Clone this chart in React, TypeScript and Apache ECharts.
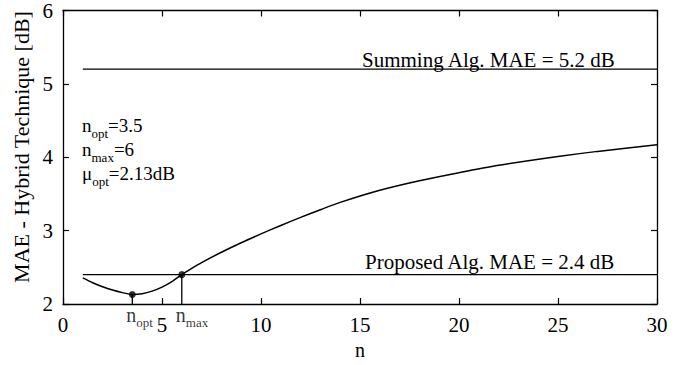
import React, { useEffect, useRef } from "react";
import * as echarts from "echarts";

// MAE of the hybrid technique versus n
const nValues = [1, 1.5, 2, 2.5, 3, 3.5, 4, 4.5, 5, 5.5, 6, 6.5, 7, 8, 9, 10, 11, 12, 13, 14, 16, 18, 20, 22, 25, 27, 30];
const maeValues = [
  2.355, 2.29, 2.235, 2.19, 2.155, 2.13, 2.14, 2.175, 2.23, 2.305, 2.4, 2.485, 2.565,
  2.705, 2.835, 2.955, 3.07, 3.18, 3.285, 3.385, 3.55, 3.68, 3.79, 3.89, 4.01, 4.08, 4.17,
];

// reference levels
const summingMae = 5.2;
const proposedMae = 2.4;
const levelRange = [1, 30];

// marked points
const nOpt = 3.5;
const muOpt = 2.13;
const nMax = 6;

const xTicks = { min: 0, max: 30, interval: 5 };
const yTicks = { min: 2, max: 6, interval: 1 };

const FONT = "'Liberation Serif', 'Times New Roman', serif";

export default function App() {
  const ref = useRef<HTMLDivElement>(null);

  useEffect(() => {
    if (!ref.current) return;
    const chart = echarts.init(ref.current, undefined, { renderer: "svg" });

    const black = "#000";
    const axisCommon = {
      axisLine: { show: true, onZero: false, lineStyle: { color: black, width: 1.3 } },
      axisTick: { show: true, inside: true, length: 6, lineStyle: { color: black, width: 1.2 } },
      splitLine: { show: false },
    };
    const subRich = {
      n: { fontFamily: FONT, fontSize: 20, color: black, padding: [0, 0, 5, 0] },
      s: { fontFamily: FONT, fontSize: 13, color: black, padding: [10, 0, 0, 0] },
    };

    chart.setOption({
      animation: false,
      backgroundColor: "#fff",
      grid: { left: 63, right: 24, top: 8, bottom: 61 },
      xAxis: [
        {
          type: "value",
          ...xTicks,
          position: "bottom",
          name: "n",
          nameLocation: "middle",
          nameGap: 33,
          nameTextStyle: { fontFamily: FONT, fontSize: 20, color: black },
          ...axisCommon,
          axisLabel: { fontFamily: FONT, fontSize: 21, color: black, margin: 10 },
        },
        {
          type: "value",
          ...xTicks,
          position: "top",
          ...axisCommon,
          axisLabel: { show: false },
        },
      ],
      yAxis: [
        {
          type: "value",
          ...yTicks,
          position: "left",
          ...axisCommon,
          axisLabel: { fontFamily: FONT, fontSize: 21, color: black, margin: 10 },
        },
        {
          type: "value",
          ...yTicks,
          position: "right",
          ...axisCommon,
          axisLabel: { show: false },
        },
      ],
      series: [
        {
          type: "line",
          data: nValues.map((n, i) => [n, maeValues[i]]),
          smooth: 0.3,
          showSymbol: false,
          lineStyle: { color: black, width: 1.5 },
        },
        {
          type: "line",
          data: levelRange.map((n) => [n, summingMae]),
          showSymbol: false,
          lineStyle: { color: black, width: 1.3 },
        },
        {
          type: "line",
          data: levelRange.map((n) => [n, proposedMae]),
          showSymbol: false,
          lineStyle: { color: black, width: 1.3 },
        },
        {
          type: "line",
          data: [[nOpt, yTicks.min], [nOpt, muOpt]],
          showSymbol: false,
          lineStyle: { color: black, width: 1.3 },
        },
        {
          type: "line",
          data: [[nMax, yTicks.min], [nMax, proposedMae]],
          showSymbol: false,
          lineStyle: { color: black, width: 1.3 },
        },
        {
          type: "scatter",
          data: [[nOpt, muOpt], [nMax, proposedMae]],
          symbolSize: 7,
          itemStyle: { color: black },
          z: 5,
        },
        {
          type: "scatter",
          data: [
            { value: [nOpt, yTicks.min], name: "opt" },
            { value: [nMax, yTicks.min], name: "max" },
          ],
          symbolSize: 0,
          label: {
            show: true,
            position: "bottom",
            distance: 1,
            align: "left",
            offset: [-6, 0],
            formatter: (p: any) => `{n|n}{s|${p.name}}`,
            rich: subRich,
          },
        },
      ],
      graphic: [
        {
          type: "text",
          x: 21,
          y: 147,
          rotation: Math.PI / 2,
          style: {
            text: "MAE - Hybrid Technique [dB]",
            font: `22px ${FONT}`,
            fill: black,
            align: "center",
            verticalAlign: "middle",
          },
        },
        {
          type: "text",
          left: 362,
          top: 49,
          style: {
            text: `Summing Alg. MAE = ${summingMae} dB`,
            font: `21px ${FONT}`,
            fill: black,
          },
        },
        {
          type: "text",
          left: 365,
          top: 251,
          style: {
            text: `Proposed Alg. MAE = ${proposedMae} dB`,
            font: `21px ${FONT}`,
            fill: black,
          },
        },
        {
          type: "text",
          left: 82,
          top: 116,
          style: {
            text: `{n|n}{s|opt}{n|=${nOpt}}\n{n|n}{s|max}{n|=${nMax}}\n{n|μ}{s|opt}{n|=${muOpt}dB}`,
            rich: {
              n: { fontFamily: FONT, fontSize: 19, fill: black, lineHeight: 24, padding: [0, 0, 5, 0] },
              s: { fontFamily: FONT, fontSize: 13, fill: black, lineHeight: 24, padding: [11, 0, 0, 0] },
            },
          },
        },
      ],
    });

    return () => chart.dispose();
  }, []);

  return (
    <div
      ref={ref}
      style={{ position: "fixed", left: 0, top: 0, width: 681, height: 365, background: "#fff" }}
    />
  );
}
